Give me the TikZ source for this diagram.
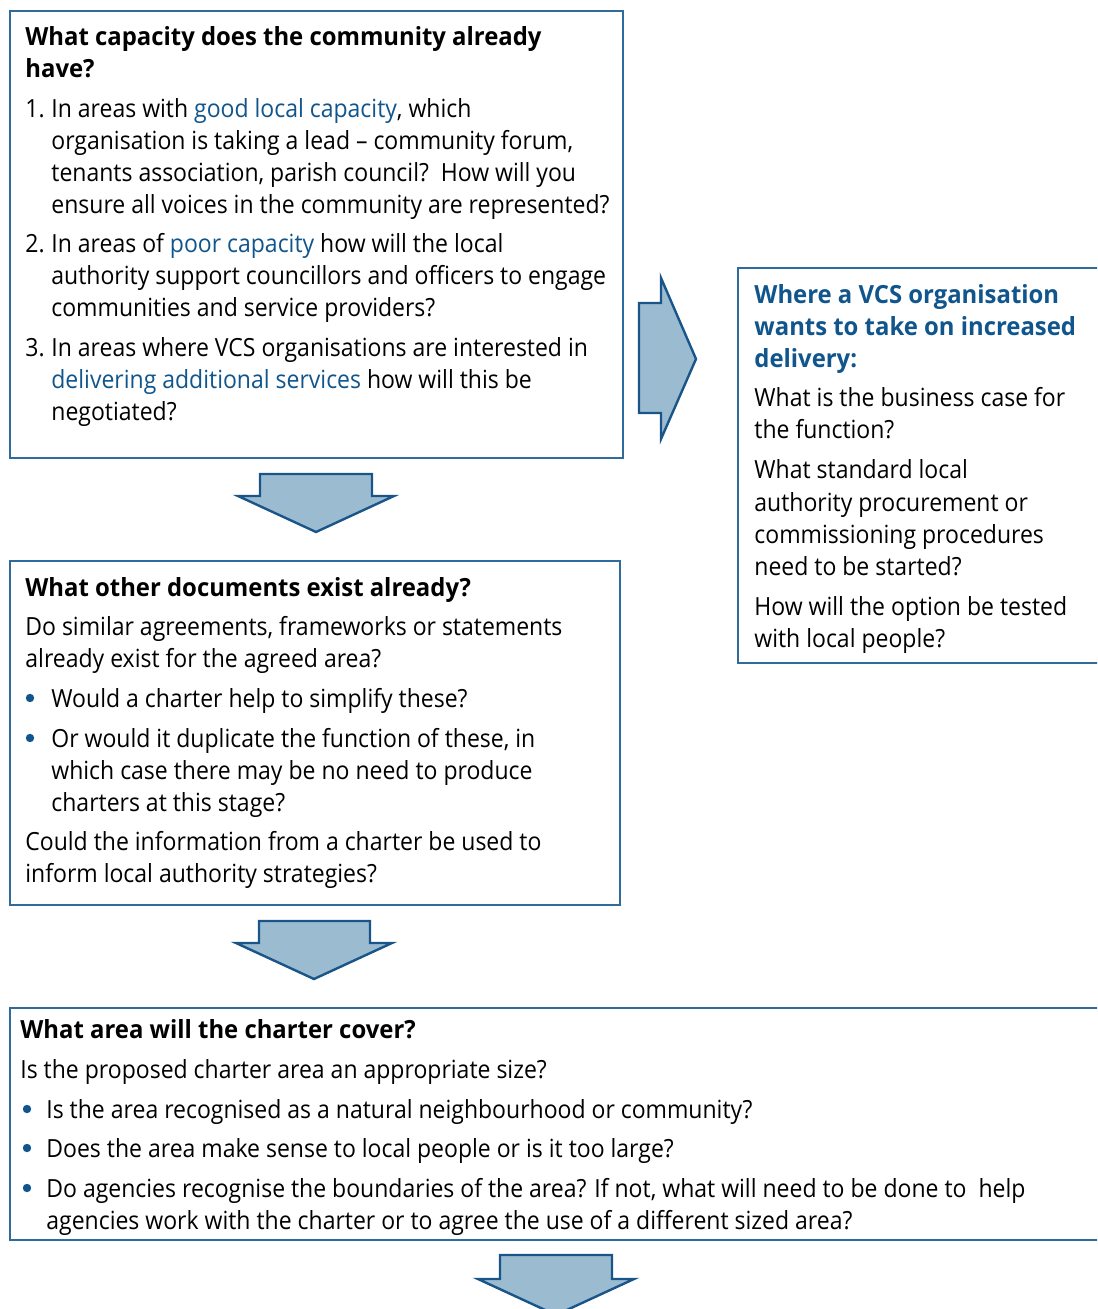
\documentclass[tikz,border=0pt]{standalone}
\usepackage{fontspec}
\setmainfont{Open Sans}[FakeStretch=0.92, BoldFeatures={FakeStretch=0.955}]
\definecolor{boxblue}{HTML}{2F6C9C}
\definecolor{txtblue}{HTML}{10558C}
\definecolor{afill}{HTML}{9BBBD1}
\definecolor{aline}{HTML}{1A5589}
\newcommand{\bl}[1]{\textcolor{txtblue}{#1}}
\begin{document}
\begin{tikzpicture}[x=0.5pt,y=-0.5pt,
  box/.style={draw=boxblue, line width=0.75pt, inner sep=0pt, outer sep=0pt},
  txt/.style={anchor=base west, inner sep=0pt, font=\fontsize{12.5}{16}\selectfont},
  hd/.style={txt, font=\fontsize{12.5}{16}\selectfont\bfseries},
  hdb/.style={hd, text=txtblue},
  dot/.style={circle, fill=txtblue, inner sep=0pt, minimum size=4.2pt},
  barrow/.style={fill=afill, draw=aline, line width=1.2pt, line join=miter}]
\useasboundingbox (0,0) rectangle (1097,1309);
\clip (0,0) rectangle (1097,1309);
% boxes
\node[box, minimum width=306.5pt, minimum height=223.5pt] (b1) at (316.5,234.5) {};
\node[box, minimum width=190pt, minimum height=197.5pt] (b2) at (928,465.5) {};
\node[box, minimum width=305pt, minimum height=172pt] (b3) at (315,733) {};
\node[box, minimum width=555pt, minimum height=116pt] (b4) at (565,1124) {};
% arrows
\draw[barrow] (260,474) -- (372,474) -- (372,496) -- (394,496) -- (316,532) -- (238,496) -- (260,496) -- cycle;
\draw[barrow] (259,921) -- (370,921) -- (370,943) -- (392,943) -- (314,979) -- (236,943) -- (259,943) -- cycle;
\draw[barrow] (500,1255) -- (612,1255) -- (612,1279) -- (634,1279) -- (556,1315) -- (478,1279) -- (500,1279) -- cycle;
\draw[barrow] (639,303) -- (661,303) -- (661,278) -- (696,359) -- (661,439) -- (661,413) -- (639,413) -- cycle;
% box 1
\node[hd] (a1) at (25,46) {What capacity does the community already};
\node[hd] (a2) at (25,78) {have?};
\node[txt] (a3n) at (25,118) {1.};
\node[txt] (a3) at (51,118) {In areas with \bl{good local capacity}, which};
\node[txt] (a4) at (51,150) {organisation is taking a lead – community forum,};
\node[txt] (a5) at (51,182) {tenants association, parish council?\ \ How will you};
\node[txt] (a6) at (51,214) {ensure all voices in the community are represented?};
\node[txt] (a7n) at (25,253) {2.};
\node[txt] (a7) at (51,253) {In areas of \bl{poor capacity} how will the local};
\node[txt] (a8) at (51,285) {authority support councillors and officers to engage};
\node[txt] (a9) at (51,317) {communities and service providers?};
\node[txt] (a10n) at (25,357) {3.};
\node[txt] (a10) at (51,357) {In areas where VCS organisations are interested in};
\node[txt] (a11) at (51,389) {\bl{delivering additional services} how will this be};
\node[txt] (a12) at (51,421) {negotiated?};
% right box
\node[hdb] (r1) at (754,304) {Where a VCS organisation};
\node[hdb] (r2) at (754,336) {wants to take on increased};
\node[hdb] (r3) at (754,368) {delivery:};
\node[txt] (r4) at (754,407) {What is the business case for};
\node[txt] (r5) at (754,439) {the function?};
\node[txt] (r6) at (754,479) {What standard local};
\node[txt] (r7) at (754,511) {authority procurement or};
\node[txt] (r8) at (754,543) {commissioning procedures};
\node[txt] (r9) at (754,575) {need to be started?};
\node[txt] (r10) at (754,615) {How will the option be tested};
\node[txt] (r11) at (754,647) {with local people?};
% box 3
\node[hd] (c1) at (25,596) {What other documents exist already?};
\node[txt] (c2) at (25,635) {Do similar agreements, frameworks or statements};
\node[txt] (c3) at (25,667) {already exist for the agreed area?};
\node[dot] (c4d) at (30,698) {};
\node[txt] (c4) at (51,707) {Would a charter help to simplify these?};
\node[dot] (c5d) at (30,738) {};
\node[txt] (c5) at (51,747) {Or would it duplicate the function of these, in};
\node[txt] (c6) at (51,779) {which case there may be no need to produce};
\node[txt] (c7) at (51,811) {charters at this stage?};
\node[txt] (c8) at (25,850) {Could the information from a charter be used to};
\node[txt] (c9) at (25,882) {inform local authority strategies?};
% box 4
\node[hd] (d1) at (20,1038) {What area will the charter cover?};
\node[txt] (d2) at (20,1078) {Is the proposed charter area an appropriate size?};
\node[dot] (d3d) at (27,1109) {};
\node[txt] (d3) at (46,1118) {Is the area recognised as a natural neighbourhood or community?};
\node[dot] (d4d) at (27,1148) {};
\node[txt] (d4) at (46,1157) {Does the area make sense to local people or is it too large?};
\node[dot] (d5d) at (27,1188) {};
\node[txt] (d5) at (46,1197) {Do agencies recognise the boundaries of the area? If not, what will need to be done to\ \ help};
\node[txt] (d6) at (46,1229) {agencies work with the charter or to agree the use of a different sized area?};
\end{tikzpicture}
\end{document}
